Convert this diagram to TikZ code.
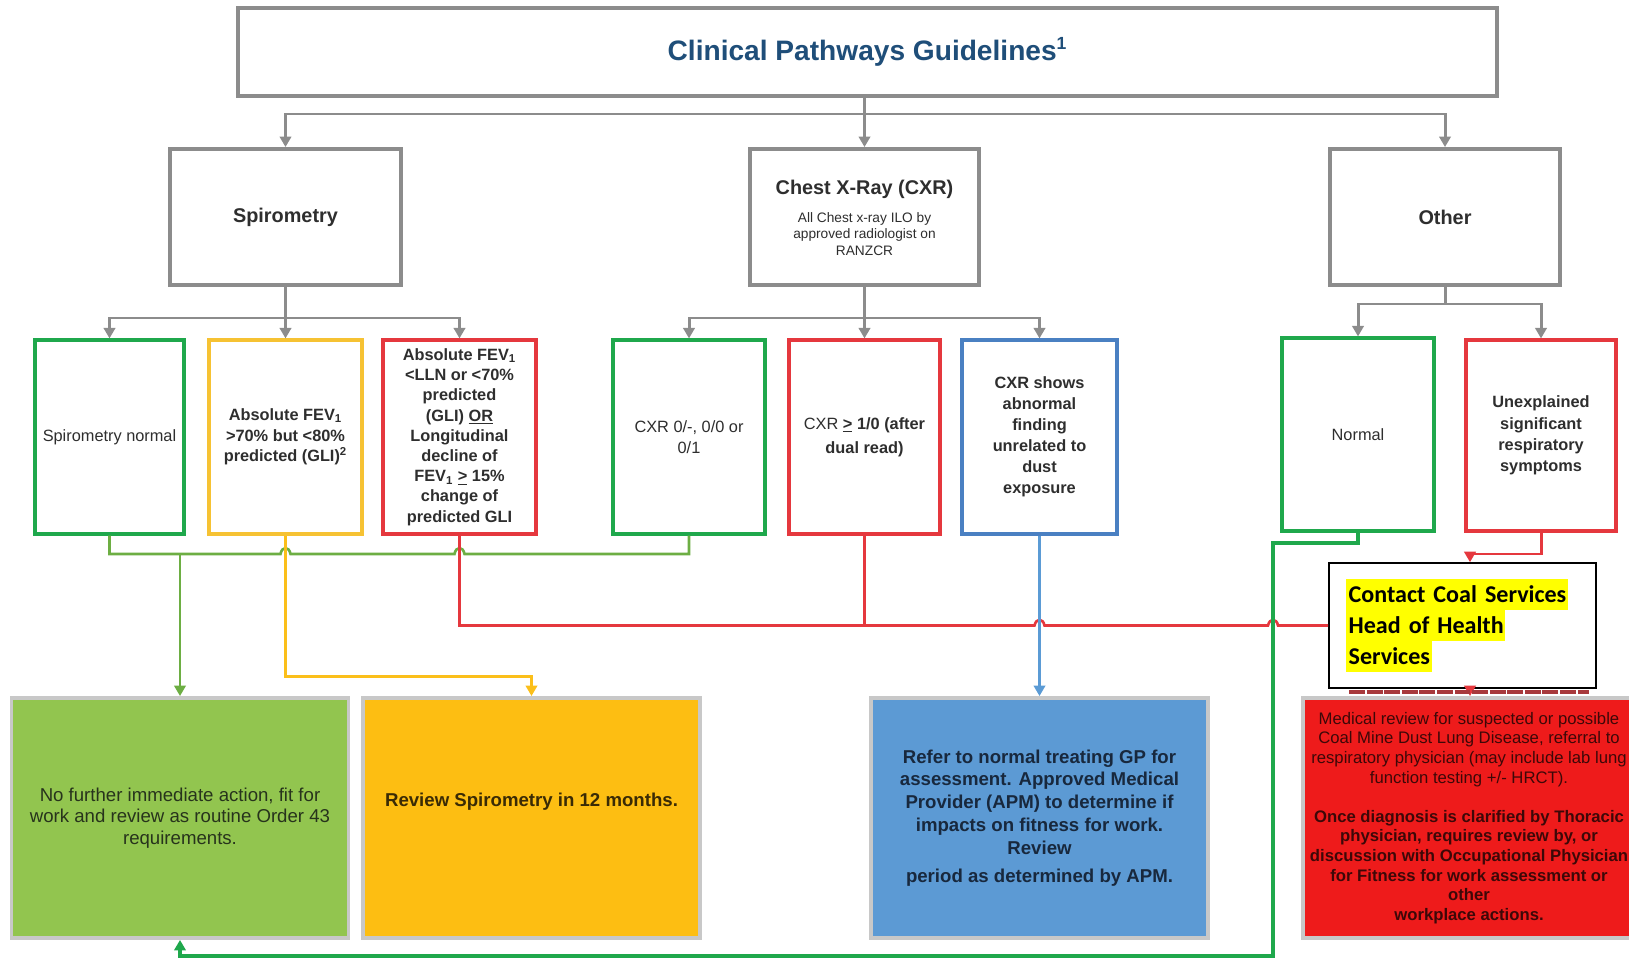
\documentclass[tikz,border=0pt]{standalone}
\usepackage{fontspec}
\setmainfont{Liberation Sans}
\newfontfamily\calibri{Carlito}
\usetikzlibrary{arrows.meta}

\definecolor{boxgray}{HTML}{8C8C8C}
\definecolor{titleblue}{HTML}{1F4E79}
\definecolor{okgreen}{HTML}{1FA84C}
\definecolor{leafgreen}{HTML}{6DAE43}
\definecolor{amber}{HTML}{F6C233}
\definecolor{amberline}{HTML}{FBBF1A}
\definecolor{alertred}{HTML}{E5383E}
\definecolor{xrayblue}{HTML}{4A80C2}
\definecolor{skyblue}{HTML}{5B9BD5}
\definecolor{fillgreen}{HTML}{92C54F}
\definecolor{fillamber}{HTML}{FDBE12}
\definecolor{fillblue}{HTML}{5C9AD4}
\definecolor{fillred}{HTML}{EE1B1B}
\definecolor{outgray}{HTML}{C8C8C8}
\definecolor{hlyellow}{HTML}{FFFF00}
\definecolor{inkgray}{HTML}{2E2E2E}
\definecolor{inkgreen}{HTML}{27331C}
\definecolor{inkamber}{HTML}{3A2B05}
\definecolor{inkblue}{HTML}{18283D}
\definecolor{inkred}{HTML}{3D0808}
\definecolor{smudge}{HTML}{A8393C}

\newcommand\hlline[1]{{\setlength\fboxsep{0pt}\colorbox{hlyellow}{\rule[-4.4pt]{0pt}{17.6pt}\kern1.5pt#1\kern1pt}}}

\tikzset{
  topbox/.style={rectangle, draw=boxgray, line width=2.2pt, fill=white, align=center,
    minimum height=2.72cm, text=inkgray, font=\fontsize{11.3}{13.5}\selectfont\bfseries},
  rowbox/.style={rectangle, line width=1.8pt, fill=white, align=center, inner sep=1pt,
    minimum height=3.88cm, text=inkgray, font=\fontsize{9.3}{11.8}\selectfont},
  outbox/.style={rectangle, draw=outgray, line width=2.2pt, align=center,
    minimum width=6.74cm, minimum height=4.8cm},
  link/.style={line width=1.7pt, draw=boxgray},
  arr/.style={-{Triangle[length=6pt,width=6.5pt]}},
}

\begin{document}
\begin{tikzpicture}[x=0.02cm, y=-0.02cm]
\useasboundingbox (0,0) rectangle (1629,959);

% headings
\node[topbox, minimum width=25.18cm, minimum height=1.76cm,
  text=titleblue, font=\fontsize{16}{19}\selectfont\bfseries] (title) at (867.5,52)
  {Clinical Pathways Guidelines\textsuperscript{\fontsize{10}{10}\selectfont 1}};
\node[topbox, minimum width=4.62cm] (spiro) at (285.5,217) {Spirometry};
\node[topbox, minimum width=4.58cm] (cxr) at (864.5,217) {\raisebox{15.9pt}[8pt][2pt]{Chest X-Ray (CXR)}};
\node[align=center, inner sep=0pt, text=inkgray, font=\fontsize{7.8}{9.4}\selectfont] (cxrnote) at (864.5,234)
  {All Chest x-ray ILO by\\approved radiologist on\\RANZCR};
\node[topbox, minimum width=4.6cm] (other) at (1445,217) {Other};

% findings
\node[rowbox, draw=okgreen, minimum width=2.98cm] (sn) at (109.5,437) {Spirometry normal};
\node[rowbox, draw=amber, minimum width=3.06cm, font=\fontsize{9.3}{11.8}\selectfont\bfseries] (fevy) at (285.5,437)
  {Absolute FEV\textsubscript{1}\\>70\% but <80\%\\predicted (GLI)\textsuperscript{2}};
\node[rowbox, draw=alertred, minimum width=3.06cm, font=\fontsize{9.3}{11.5}\selectfont\bfseries] (fevr) at (459.5,437)
  {Absolute FEV\textsubscript{1}\\<LLN or <70\%\\predicted\\(GLI) \underline{OR}\\Longitudinal\\decline of\\FEV\textsubscript{1} \underline{>} 15\%\\change of\\predicted GLI};
\node[rowbox, draw=okgreen, minimum width=3.04cm] (cxra) at (689,437) {CXR 0/-, 0/0 or\\0/1};
\node[rowbox, draw=alertred, minimum width=3.02cm, font=\fontsize{9.3}{13.5}\selectfont] (cxrb) at (864.5,437)
  {CXR \textbf{\underline{>} 1/0 (after}\\\textbf{dual read)}};
\node[rowbox, draw=xrayblue, minimum width=3.1cm, font=\fontsize{9.3}{12}\selectfont\bfseries] (cxrc) at (1039.5,437)
  {CXR shows\\abnormal\\finding\\unrelated to\\dust\\exposure};
\node[rowbox, draw=okgreen, minimum width=3.04cm, minimum height=3.86cm] (norm) at (1358,434.5) {Normal};
\node[rowbox, draw=alertred, minimum width=3cm, minimum height=3.82cm, font=\fontsize{9.3}{12.2}\selectfont\bfseries] (unexp) at (1541,435.5)
  {Unexplained\\significant\\respiratory\\symptoms};

% outcomes
\node[outbox, fill=fillgreen, text=inkgreen, font=\fontsize{10.6}{12.2}\selectfont] (gbox) at (180,818)
  {No further immediate action, fit for\\work and review as routine Order 43\\requirements.};
\node[outbox, fill=fillamber, text=inkamber, font=\fontsize{10.6}{12.2}\selectfont\bfseries] (ybox) at (531.5,818)
  {\raisebox{9.6pt}[8pt][2pt]{Review Spirometry in 12 months.}};
\node[outbox, fill=fillblue, text=inkblue, font=\fontsize{10.6}{13}\selectfont\bfseries] (bbox) at (1039.5,818)
  {Refer to normal treating GP for\\assessment. Approved Medical\\Provider (APM) to determine if\\impacts on fitness for work.\\Review\\[3pt]period as determined by APM.};
\node[outbox, fill=fillred, text=inkred, minimum width=6.64cm, font=\fontsize{9.5}{11.2}\selectfont] (rbox) at (1469,818)
  {Medical review for suspected or possible\\Coal Mine Dust Lung Disease, referral to\\respiratory physician (may include lab lung\\function testing +/- HRCT).\\[11pt]
   \textbf{Once diagnosis is clarified by Thoracic}\\\textbf{physician, requires review by, or}\\\textbf{discussion with Occupational Physician}\\\textbf{for Fitness for work assessment or}\\\textbf{other}\\\textbf{workplace actions.}};
\node[rectangle, draw=black, line width=1pt, fill=white, minimum width=5.34cm, minimum height=2.26cm,
  text width=4.66cm, inner sep=0.32cm, align=left, font=\calibri\fontsize{13.7}{17.6}\selectfont\bfseries] (contact) at (1462.5,625.5)
  {\hlline{Contact Coal Services}\\\hlline{Head of Health}\\\hlline{Services}};

% top level split
\coordinate (top) at (864.5,114);
\draw[link] (title.south -| top) -- (top);
\draw[link, arr] (top) -| (spiro.north);
\draw[link, arr] (top) -- (cxr.north);
\draw[link, arr] (top) -| (other.north);

% second level splits
\coordinate (sp) at (285.5,318);
\draw[link, arr] (spiro.south) -- (fevy.north);
\draw[link, arr] (sp) -| (sn.north);
\draw[link, arr] (sp) -| (fevr.north);
\coordinate (cx) at (864.5,318);
\draw[link, arr] (cxr.south) -- (cxrb.north);
\draw[link, arr] (cx) -| (cxra.north);
\draw[link, arr] (cx) -| (cxrc.north);
\coordinate (ot) at (1445,304);
\draw[link] (other.south) -- (ot);
\draw[link, arr] (ot) -| (norm.north);
\draw[link, arr] (ot) -| (unexp.north);

% no action (jumps over amber and red)
\draw[leafgreen, line width=1.5pt] (sn.south) |- (280.5,554)
  .. controls (282,546) and (289,546) .. (290.5,554) -- (454.5,554)
  .. controls (456,546) and (463,546) .. (464.5,554) -| (cxra.south);
\coordinate (gn) at (180,554);
\draw[leafgreen, line width=1.5pt, arr] (gn) -- (gbox.north);

% review in 12 months
\draw[amberline, line width=1.5pt, arr] (fevy.south) -- ++(0,141) -| (ybox.north);

% abnormal results to Coal Services
\draw[alertred, line width=1.5pt] (fevr.south) |- (1034.5,625.5)
  .. controls (1036,618) and (1043,618) .. (1044.5,625.5) -- (1268,625.5)
  .. controls (1269.5,618) and (1276.5,618) .. (1278,625.5) -- (contact.west);
\draw[alertred, line width=1.5pt] (cxrb.south) -- (cxrb.south |- contact.west);

% GP referral
\draw[skyblue, line width=1.5pt, arr] (cxrc.south) -- (bbox.north);

% normal result back to routine review
\draw[okgreen, line width=2.2pt, arr] (norm.south) |- (1273,543) -- (1273,956) -| (gbox.south);

% symptoms
\coordinate (ux) at (1470,554);
\draw[alertred, line width=1.7pt, arr] (unexp.south) |- (ux) -- (ux |- contact.north);
\draw[alertred, line width=1.5pt, arr] (ux |- contact.south) -- (ux |- rbox.north);
\draw[smudge, line width=2.2pt, dash pattern=on 9pt off 1pt] (contact.south west) ++(21,3) -- ++(240,0);
\end{tikzpicture}
\end{document}
